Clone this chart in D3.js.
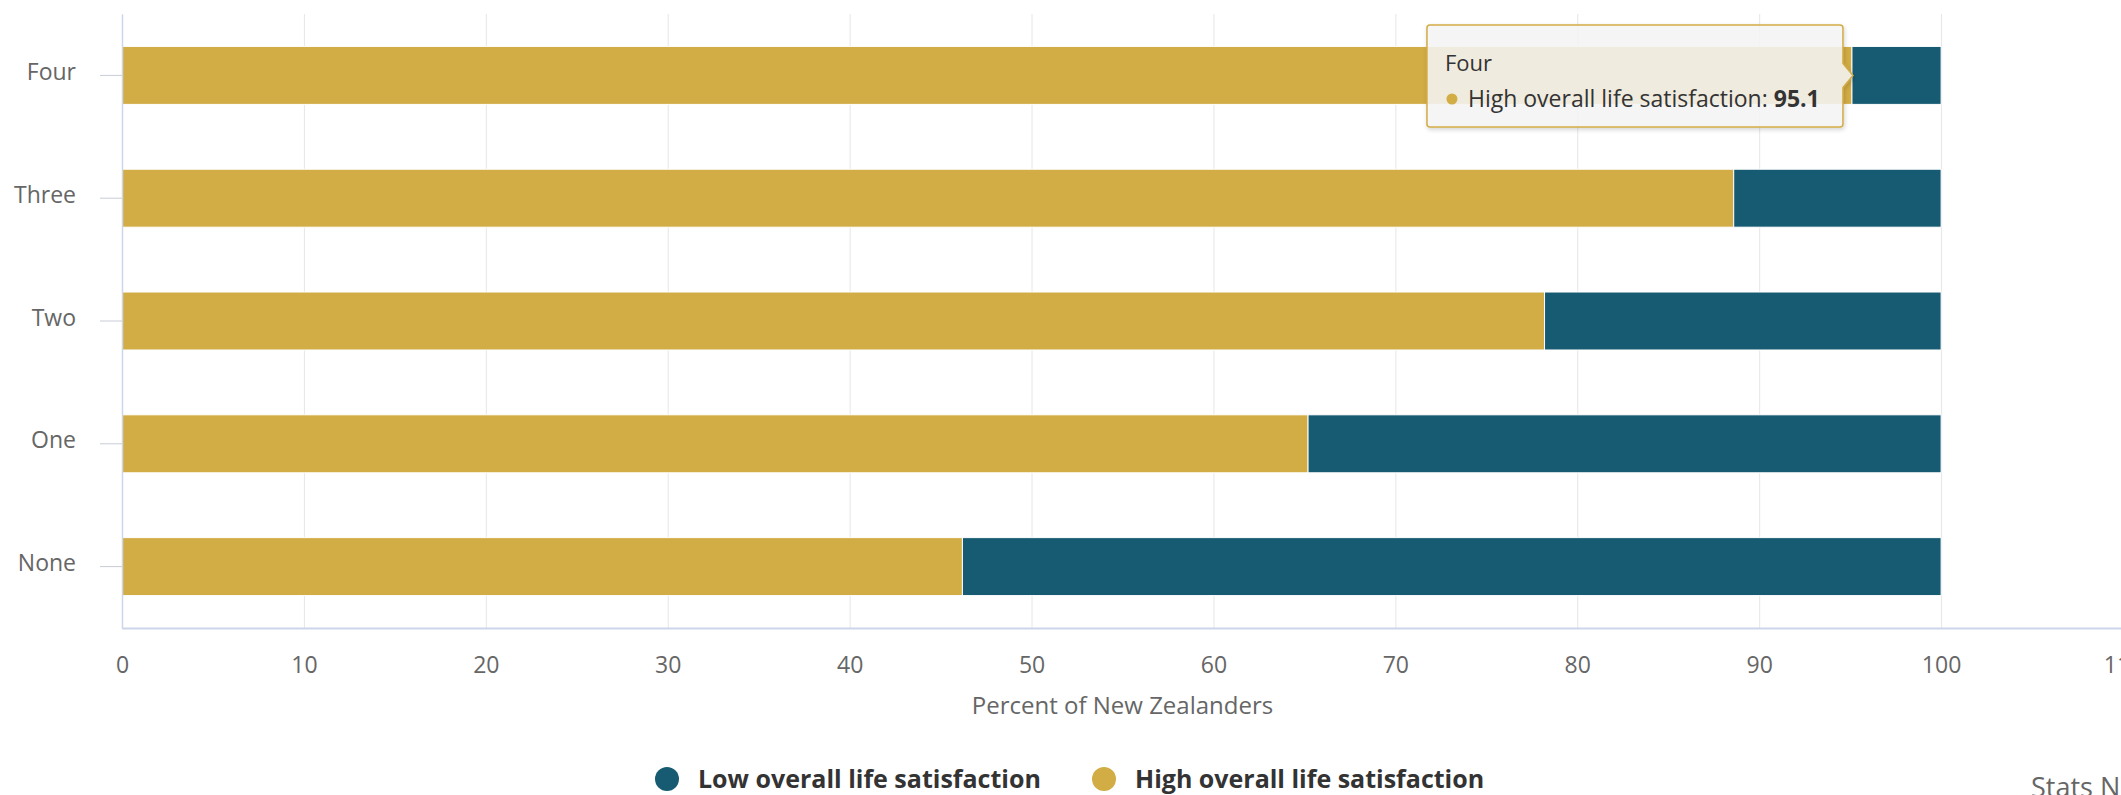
<!DOCTYPE html>
<meta charset="utf-8">
<style>
  body { margin: 0; background: #fff; }
  svg { display: block; font-family: "Open Sans", Lato, sans-serif; }
</style>
<svg width="2121" height="795"></svg>
<script src="https://d3js.org/d3.v7.min.js"></script>
<script>

var svg = d3.select("svg"),
    width = +svg.attr("width"),
    height = +svg.attr("height");

// data, top to bottom as drawn
var categories = ["Four", "Three", "Two", "One", "None"];
var highValues = [95.1, 88.6, 78.2, 65.2, 46.2];
var lowValues  = [4.9, 11.4, 21.8, 34.8, 53.8];
var xTicks = [0, 10, 20, 30, 40, 50, 60, 70, 80, 90, 100, 110];
var seriesNames = ["Low overall life satisfaction", "High overall life satisfaction"];

var lowColor = "#175b73";
var highColor = "#d2ac44";
var gridColor = "#e6e6e6";
var axisColor = "#ccd6eb";
var labelColor = "#666666";
var fontFamily = "'Open Sans'";

var plotLeft = 122, plotTop = 14, plotBottom = 628;

var x = d3.scaleLinear().domain([0, 110]).range([plotLeft, 2123]);
var y = d3.scaleBand().domain(categories)
    .range([plotTop, plotBottom])
    .paddingInner(0.528)
    .paddingOuter(0.264);

var rows = categories.map(function(c, i) {
  return { cat: c, high: highValues[i], low: lowValues[i] };
});
var stacked = d3.stack().keys(["high", "low"])(rows);
var colorOf = { high: highColor, low: lowColor };

// x axis with gridlines
var xAxis = svg.append("g")
    .attr("transform", "translate(0," + plotBottom + ")")
    .call(d3.axisBottom(x).tickValues(xTicks)
        .tickSizeInner(-(plotBottom - plotTop)).tickSizeOuter(0).tickPadding(29));
xAxis.select(".domain").remove();
xAxis.selectAll(".tick line").attr("stroke", gridColor);
xAxis.selectAll(".tick text")
    .attr("fill", labelColor)
    .style("font-size", "23px")
    .style("font-family", fontFamily);

// bottom axis line
svg.append("line")
    .attr("x1", plotLeft).attr("x2", width)
    .attr("y1", plotBottom + 0.5).attr("y2", plotBottom + 0.5)
    .attr("stroke", axisColor).attr("stroke-width", 2);

// bars
svg.append("g").selectAll("g")
    .data(stacked)
    .enter().append("g")
    .attr("fill", function(d) { return colorOf[d.key]; })
    .selectAll("rect")
    .data(function(d) { return d; })
    .enter().append("rect")
    .attr("x", function(d) { return x(d[0]); })
    .attr("width", function(d) { return x(d[1]) - x(d[0]); })
    .attr("y", function(d) { return y(d.data.cat); })
    .attr("height", y.bandwidth())
    .attr("stroke", "#fff")
    .attr("stroke-width", 1);

// category axis
var yAxis = svg.append("g")
    .attr("transform", "translate(" + plotLeft + ",0)")
    .call(d3.axisLeft(y).tickSizeInner(22).tickSizeOuter(0).tickPadding(24));
yAxis.select(".domain").attr("stroke", axisColor).attr("stroke-width", 1.5);
yAxis.selectAll(".tick line").attr("stroke", "#c8ccd6");
yAxis.selectAll(".tick text")
    .attr("fill", labelColor)
    .attr("dy", "0.2em")
    .style("font-size", "23px")
    .style("font-family", fontFamily);

// axis title
svg.append("text")
    .attr("x", (x(0) + x(110)) / 2)
    .attr("y", 714)
    .attr("text-anchor", "middle")
    .attr("fill", labelColor)
    .style("font-size", "24px")
    .text("Percent of New Zealanders");

// legend
var legendItems = [
  { name: seriesNames[0], color: lowColor, x: 667 },
  { name: seriesNames[1], color: highColor, x: 1104 }
];
var legend = svg.append("g").selectAll("g")
    .data(legendItems)
    .enter().append("g")
    .attr("transform", function(d) { return "translate(" + d.x + ",779)"; });
legend.append("circle").attr("r", 12).attr("fill", function(d) { return d.color; });
legend.append("text")
    .attr("x", 31).attr("y", 9)
    .attr("fill", "#333")
    .style("font-size", "25px")
    .style("font-weight", "bold")
    .text(function(d) { return d.name; });

// credit
svg.append("text")
    .attr("x", 2031).attr("y", 797)
    .attr("fill", "#666")
    .style("font-size", "27px")
    .text("Stats NZ");

// tooltip for "Four"
var tipX = x(highValues[0]) + 1,
    tipY = y(categories[0]) + y.bandwidth() / 2,
    boxR = tipX - 10, boxL = boxR - 416,
    boxT = 25, boxB = 127;

var defs = svg.append("defs");
var f = defs.append("filter").attr("id", "shadow")
    .attr("x", "-10%").attr("y", "-20%").attr("width", "130%").attr("height", "150%");
f.append("feDropShadow").attr("dx", 1).attr("dy", 2).attr("stdDeviation", 2)
    .attr("flood-color", "#000").attr("flood-opacity", 0.18);

var tip = svg.append("g");
tip.append("path")
    .attr("d", "M" + (boxL + 3) + "," + boxT +
        " H" + (boxR - 3) + " Q" + boxR + "," + boxT + " " + boxR + "," + (boxT + 3) +
        " V" + (tipY - 12) + " L" + tipX + "," + tipY + " L" + boxR + "," + (tipY + 12) +
        " V" + (boxB - 3) + " Q" + boxR + "," + boxB + " " + (boxR - 3) + "," + boxB +
        " H" + (boxL + 3) + " Q" + boxL + "," + boxB + " " + boxL + "," + (boxB - 3) +
        " V" + (boxT + 3) + " Q" + boxL + "," + boxT + " " + (boxL + 3) + "," + boxT + "Z")
    .attr("fill", "rgba(247,247,247,0.86)")
    .attr("stroke", highColor)
    .attr("stroke-width", 1.5)
    .attr("filter", "url(#shadow)");
tip.append("text")
    .attr("x", boxL + 18).attr("y", 71)
    .attr("fill", "#333")
    .style("font-size", "22px")
    .text(categories[0]);
tip.append("circle")
    .attr("cx", boxL + 25).attr("cy", 99).attr("r", 5.5)
    .attr("fill", highColor);
var line2 = tip.append("text")
    .attr("x", boxL + 41).attr("y", 107)
    .attr("fill", "#333")
    .style("font-size", "23px");
line2.append("tspan").text(seriesNames[1] + ": ");
line2.append("tspan").style("font-weight", "bold").text(highValues[0]);

</script>
